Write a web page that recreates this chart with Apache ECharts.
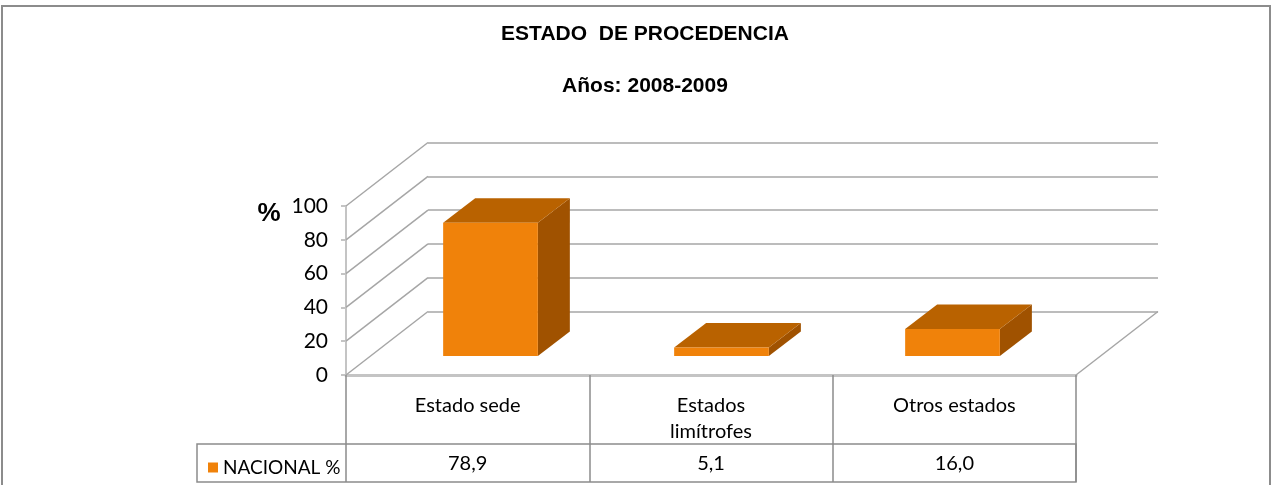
<!DOCTYPE html>
<html>
<head>
<meta charset="utf-8">
<script src="https://cdn.jsdelivr.net/npm/echarts@6/dist/echarts.min.js"></script>
<style>
html, body { margin: 0; padding: 0; background: #fff; }
#chart { width: 1272px; height: 485px; }
</style>
</head>
<body>
<div id="chart"></div>
<script>
const categories = ['Estado sede', 'Estados\nlimítrofes', 'Otros estados'];
const nacional = [78.9, 5.1, 16.0];
const yTicks = [0, 20, 40, 60, 80, 100];
const seriesName = 'NACIONAL %';

const chart = echarts.init(document.getElementById('chart'));

// fondo oblicuo de la pared y profundidad de las barras
const DX = 82, DY = -63.5;
const BX = 32, BY = -24.5;

const font = 'Lato, "Open Sans", sans-serif';
const fmt = v => v.toFixed(1).replace('.', ',');

const option = {
  animation: false,
  grid: [
    {left: 346, top: 206, width: 730, height: 169},
    {left: 428, top: 142.5, width: 730, height: 169},
    {left: 375, top: 187, width: 693, height: 169}
  ],
  xAxis: [
    {
      gridIndex: 0,
      type: 'category',
      data: categories,
      axisLine: {lineStyle: {color: '#c4c4c4', width: 3}},
      axisTick: {show: true, interval: 0, length: 107, lineStyle: {color: '#8c8c8c', width: 1.5}},
      axisLabel: {interval: 0, margin: 18, verticalAlign: 'top', lineHeight: 26, fontSize: 20, fontFamily: font, color: '#000'}
    },
    {
      gridIndex: 0,
      type: 'category',
      data: categories,
      position: 'bottom',
      offset: 69,
      axisLine: {show: false},
      axisTick: {show: false},
      axisLabel: {
        interval: 0, margin: 9, verticalAlign: 'top', lineHeight: 22,
        fontSize: 20, fontFamily: font, color: '#000',
        formatter: (v, i) => fmt(nacional[i])
      }
    },
    {gridIndex: 1, type: 'category', data: categories, show: false},
    {gridIndex: 2, type: 'category', data: categories, show: false}
  ],
  yAxis: [
    {
      gridIndex: 0,
      type: 'value',
      min: 0, max: 100, interval: 20,
      axisLine: {show: true, lineStyle: {color: '#c4c4c4', width: 2}},
      axisTick: {show: true, length: 5, lineStyle: {color: '#c4c4c4', width: 2}},
      axisLabel: {margin: 18, fontSize: 21, fontFamily: font, color: '#000'},
      splitLine: {show: false}
    },
    {
      gridIndex: 1,
      type: 'value',
      min: 0, max: 100, interval: 20,
      axisLine: {show: false},
      axisTick: {show: false},
      axisLabel: {show: false},
      splitLine: {show: true, lineStyle: {color: '#a6a6a6', width: 1.5}}
    },
    {gridIndex: 2, type: 'value', min: 0, max: 100, show: false}
  ],
  legend: {
    data: [seriesName],
    left: 203, top: 453,
    icon: 'rect', itemWidth: 10, itemHeight: 10,
    textStyle: {fontSize: 19, fontFamily: font, color: '#000'}
  },
  graphic: [
    {type: 'rect', shape: {x: 2, y: 6, width: 1268, height: 500}, style: {fill: 'none', stroke: '#8c8c8c', lineWidth: 2}},
    {type: 'rect', shape: {x: 197, y: 444, width: 879, height: 38}, style: {fill: 'none', stroke: '#8c8c8c', lineWidth: 1.5}},
    {type: 'text', x: 645, y: 34, style: {text: 'ESTADO  DE PROCEDENCIA', textAlign: 'center', textVerticalAlign: 'middle', font: 'bold 21px "Liberation Sans", Arial, sans-serif', fill: '#000'}},
    {type: 'text', x: 645, y: 86, style: {text: 'Años: 2008-2009', textAlign: 'center', textVerticalAlign: 'middle', font: 'bold 21px "Liberation Sans", Arial, sans-serif', fill: '#000'}},
    {type: 'text', x: 269, y: 214, style: {text: '%', textAlign: 'center', textVerticalAlign: 'middle', font: 'bold 26px "Liberation Sans", Arial, sans-serif', fill: '#000'}}
  ],
  series: [
    {
      name: 'pared',
      type: 'custom',
      xAxisIndex: 0,
      yAxisIndex: 0,
      silent: true,
      z: 1,
      data: yTicks.map(v => [0, v]),
      renderItem: (params, api) => {
        const v = api.value(1);
        const p = api.coord([0, v]);
        const band = api.size([1, 0])[0];
        const x0 = p[0] - band / 2;
        const style = {stroke: '#a6a6a6', lineWidth: 1.5};
        const children = [{type: 'line', shape: {x1: x0, y1: p[1], x2: x0 + DX, y2: p[1] + DY}, style}];
        if (v === 0) {
          const pr = api.coord([categories.length - 1, 0]);
          const x1 = pr[0] + band / 2;
          children.push({type: 'line', shape: {x1: x1, y1: pr[1], x2: x1 + DX, y2: pr[1] + DY}, style});
        }
        return {type: 'group', children};
      }
    },
    {
      name: seriesName,
      type: 'custom',
      xAxisIndex: 3,
      yAxisIndex: 2,
      z: 3,
      itemStyle: {color: '#F0820A'},
      data: nacional.map((v, i) => [i, v]),
      encode: {x: 0, y: 1},
      renderItem: (params, api) => {
        const i = api.value(0);
        const top = api.coord([i, api.value(1)]);
        const base = api.coord([i, 0]);
        const w = api.size([1, 0])[0] * 0.41;
        const xl = top[0] - w / 2, xr = top[0] + w / 2;
        return {
          type: 'group',
          children: [
            {type: 'polygon', shape: {points: [[xr, top[1]], [xr + BX, top[1] + BY], [xr + BX, base[1] + BY], [xr, base[1]]]}, style: {fill: '#A05200'}},
            {type: 'polygon', shape: {points: [[xl, top[1]], [xl + BX, top[1] + BY], [xr + BX, top[1] + BY], [xr, top[1]]]}, style: {fill: '#B96200'}},
            {type: 'rect', shape: {x: xl, y: top[1], width: w, height: base[1] - top[1]}, style: {fill: '#F0820A'}}
          ]
        };
      }
    }
  ]
};

chart.setOption(option);
</script>
</body>
</html>
